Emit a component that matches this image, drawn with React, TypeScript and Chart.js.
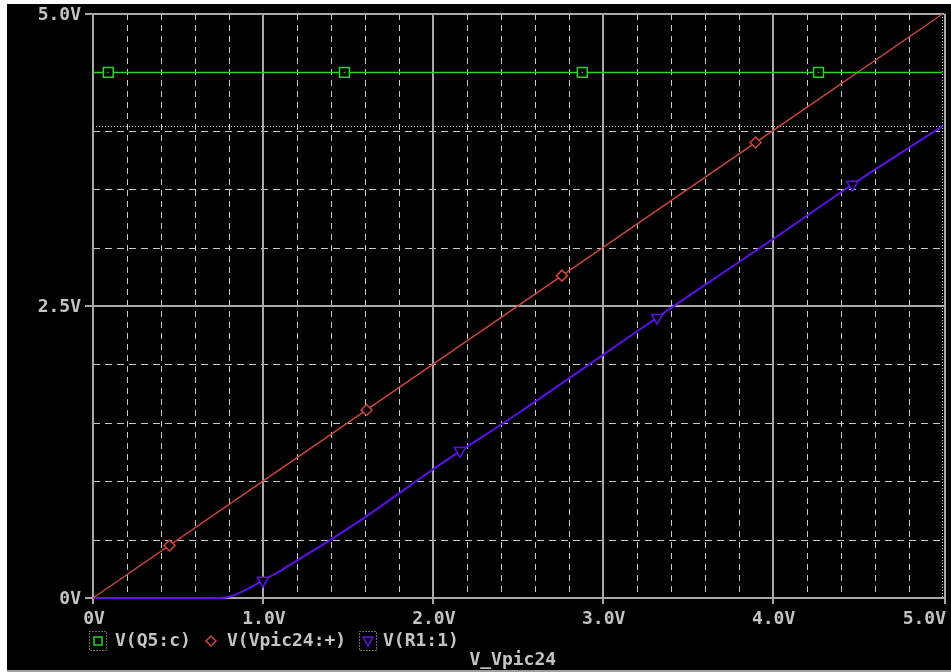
import { useEffect, useRef } from "react";
import { Chart, registerables } from "chart.js";

Chart.register(...registerables);

// ---- axis ticks ----
const xTickValues = [0, 1, 2, 3, 4, 5];
const xTickLabels = ["0V", "1.0V", "2.0V", "3.0V", "4.0V", "5.0V"];
const yTickValues = [0, 2.5, 5];
const yTickLabels = ["0V", "2.5V", "5.0V"];
const xMinorValues = [0.2, 0.4, 0.6, 0.8, 1.2, 1.4, 1.6, 1.8, 2.2, 2.4, 2.6, 2.8, 3.2, 3.4, 3.6, 3.8, 4.2, 4.4, 4.6, 4.8];
const yMinorValues = [0.5, 1, 1.5, 2, 3, 3.5, 4, 4.5];

// ---- series ----
const seriesNames = ["V(Q5:c)", "V(Vpic24:+)", "V(R1:1)"];
const xAxisTitle = "V_Vpic24";

const q5X = [0, 5];
const q5Y = [4.5, 4.5];
const q5MarkX = [0.09, 1.48, 2.88, 4.27];
const q5MarkY = [4.5, 4.5, 4.5, 4.5];

const vpicX = [0, 1, 2, 3, 4, 5];
const vpicY = [0, 1, 2, 3, 4, 5];
const vpicMarkX = [0.45, 1.61, 2.76, 3.9];
const vpicMarkY = [0.45, 1.61, 2.76, 3.9];

const r1X = [0, 0.5, 0.75, 0.8, 0.9, 1.0, 1.1, 1.2, 1.4, 1.6, 2.0, 2.5, 3.0, 3.5, 4.0, 4.5, 5.0];
const r1Y = [0, 0, 0, 0.01, 0.07, 0.15, 0.23, 0.32, 0.5, 0.69, 1.1, 1.58, 2.08, 2.58, 3.07, 3.57, 4.04];
const r1MarkX = [1.0, 2.16, 3.32, 4.47];
const r1MarkY = [0.15, 1.26, 2.4, 3.54];

const cursorX = 5.0;
const cursorY = 4.04;

const GREEN = "#2bd42b";
const RED = "#c8483e";
const BLUE = "#5b12e8";
const TEXT = "#c4c4c4";
const FONT = 'bold 18px "DejaVu Sans Mono", "Liberation Mono", monospace';

const pts = (xs: number[], ys: number[]) => xs.map((v, i) => ({ x: v, y: ys[i] }));

function line(ctx: CanvasRenderingContext2D, x1: number, y1: number, x2: number, y2: number) {
  ctx.beginPath();
  ctx.moveTo(x1, y1);
  ctx.lineTo(x2, y2);
  ctx.stroke();
}

const gridPlugin = {
  id: "pspiceGrid",
  beforeDatasetsDraw(chart: any) {
    const { ctx, chartArea: a, scales } = chart;
    const xs = scales.x;
    const ys = scales.y;
    ctx.save();
    ctx.lineWidth = 1;
    ctx.strokeStyle = "#c8c8c8";
    ctx.setLineDash([6, 5]);
    xMinorValues.forEach((v) => {
      const px = Math.round(xs.getPixelForValue(v)) + 0.5;
      line(ctx, px, a.top, px, a.bottom);
    });
    ctx.setLineDash([7, 5]);
    yMinorValues.forEach((v) => {
      const py = Math.round(ys.getPixelForValue(v)) + 0.5;
      line(ctx, a.left, py, a.right, py);
    });
    ctx.setLineDash([]);
    ctx.strokeStyle = "#a8a8a8";
    ctx.lineWidth = 2;
    xTickValues.forEach((v) => {
      const px = Math.round(xs.getPixelForValue(v));
      if (v === 5) return;
      line(ctx, px, a.top, px, a.bottom + 6);
    });
    yTickValues.forEach((v) => {
      const py = Math.round(ys.getPixelForValue(v));
      line(ctx, a.left - 8, py, a.right + 2, py);
    });
    const rx = Math.round(xs.getPixelForValue(5)) + 2;
    line(ctx, rx, a.top, rx, a.bottom + 6);
    ctx.lineWidth = 1;
    ctx.strokeStyle = "#d8d8d8";
    ctx.setLineDash([1, 2]);
    const cy = Math.round(ys.getPixelForValue(cursorY)) + 0.5;
    line(ctx, a.left, cy, a.right, cy);
    const cx = Math.round(xs.getPixelForValue(cursorX)) - 0.5;
    line(ctx, cx, a.top, cx, a.bottom);
    ctx.restore();
  },
  afterDraw(chart: any) {
    const { ctx, chartArea: a, scales, width } = chart;
    const xs = scales.x;
    const ys = scales.y;
    ctx.save();
    ctx.font = FONT;
    ctx.fillStyle = TEXT;
    ctx.textBaseline = "middle";
    ctx.textAlign = "right";
    yTickValues.forEach((v, i) => {
      ctx.fillText(yTickLabels[i], a.left - 12, ys.getPixelForValue(v) + 1);
    });
    xTickValues.forEach((v, i) => {
      const w = ctx.measureText(xTickLabels[i]).width;
      let cx = xs.getPixelForValue(v);
      if (cx + w / 2 > width - 6) cx = width - 6 - w / 2;
      ctx.textAlign = "center";
      ctx.fillText(xTickLabels[i], cx + 1, a.bottom + 21);
    });
    const ly = a.bottom + 43;
    ctx.textAlign = "left";
    ctx.save();
    ctx.strokeStyle = "#d0d0d0";
    ctx.lineWidth = 1;
    ctx.setLineDash([1, 2]);
    ctx.strokeRect(82.5, ly - 9.5, 17, 19);
    ctx.strokeRect(352.5, ly - 9.5, 17, 19);
    ctx.restore();
    ctx.strokeStyle = GREEN;
    ctx.lineWidth = 1.5;
    ctx.strokeRect(87, ly - 4, 8, 8);
    ctx.fillText(seriesNames[0], 108, ly);
    ctx.strokeStyle = RED;
    ctx.beginPath();
    ctx.moveTo(204, ly - 5);
    ctx.lineTo(209, ly);
    ctx.lineTo(204, ly + 5);
    ctx.lineTo(199, ly);
    ctx.closePath();
    ctx.stroke();
    ctx.fillText(seriesNames[1], 220, ly);
    ctx.strokeStyle = BLUE;
    ctx.beginPath();
    ctx.moveTo(356, ly - 4);
    ctx.lineTo(366, ly - 4);
    ctx.lineTo(361, ly + 5);
    ctx.closePath();
    ctx.stroke();
    ctx.fillStyle = TEXT;
    ctx.fillText(seriesNames[2], 376, ly);
    ctx.textAlign = "center";
    ctx.fillText(xAxisTitle, (a.left + a.right) / 2 - 5, a.bottom + 62);
    ctx.restore();
  },
};

export default function App() {
  const ref = useRef<HTMLCanvasElement | null>(null);

  useEffect(() => {
    document.body.style.margin = "0";
    const canvas = ref.current;
    if (!canvas) return;
    const chart = new Chart(canvas, {
      type: "scatter",
      data: {
        datasets: [
          {
            label: seriesNames[0] + " markers",
            data: pts(q5MarkX, q5MarkY),
            showLine: false,
            pointStyle: "rect",
            pointRadius: 7,
            pointBorderColor: GREEN,
            pointBackgroundColor: "#000000",
            pointBorderWidth: 1.5,
            order: 0,
          },
          {
            label: seriesNames[0] + " dots",
            data: pts(q5MarkX, q5MarkY),
            showLine: false,
            pointStyle: "rect",
            pointRadius: 1,
            pointBorderColor: GREEN,
            pointBackgroundColor: GREEN,
            pointBorderWidth: 0,
            order: -1,
          },
          {
            label: seriesNames[1] + " markers",
            data: pts(vpicMarkX, vpicMarkY),
            showLine: false,
            pointStyle: "rectRot",
            pointRadius: 5.5,
            pointBorderColor: RED,
            pointBackgroundColor: "#000000",
            pointBorderWidth: 1.5,
            order: 0,
          },
          {
            label: seriesNames[2] + " markers",
            data: pts(r1MarkX, r1MarkY),
            showLine: false,
            pointStyle: "triangle",
            rotation: 180,
            pointRadius: 6.5,
            pointBorderColor: BLUE,
            pointBackgroundColor: "#000000",
            pointBorderWidth: 1.5,
            order: 0,
          },
          {
            label: seriesNames[0],
            data: pts(q5X, q5Y),
            showLine: true,
            borderColor: GREEN,
            borderWidth: 1.5,
            pointRadius: 0,
            clip: 4,
            order: 1,
          },
          {
            label: seriesNames[1],
            data: pts(vpicX, vpicY),
            showLine: true,
            borderColor: RED,
            borderWidth: 1.5,
            pointRadius: 0,
            clip: 4,
            order: 1,
          },
          {
            label: seriesNames[2],
            data: pts(r1X, r1Y),
            showLine: true,
            borderColor: BLUE,
            borderWidth: 2,
            pointRadius: 0,
            cubicInterpolationMode: "monotone",
            clip: 4,
            order: 1,
          },
        ],
      } as any,
      options: {
        animation: false,
        responsive: false,
        maintainAspectRatio: false,
        devicePixelRatio: 1,
        layout: { padding: { left: 86, right: 5, top: 10, bottom: 72 } },
        scales: {
          x: { type: "linear", min: 0, max: 5, display: false },
          y: { type: "linear", min: 0, max: 5, display: false },
        },
        plugins: {
          legend: { display: false },
          tooltip: { enabled: false },
        },
        events: [],
      } as any,
      plugins: [gridPlugin],
    });
    return () => chart.destroy();
  }, []);

  return (
    <div style={{ position: "fixed", left: 0, top: 0, width: 951, height: 672, background: "#ffffff" }}>
      <div style={{ position: "absolute", left: 7, top: 4, width: 944, height: 666, background: "#000000" }}>
        <canvas ref={ref} width={944} height={666} style={{ display: "block" }} />
      </div>
      <div style={{ position: "absolute", left: 7, top: 670, width: 944, height: 2, background: "#a0a0a0" }} />
    </div>
  );
}
